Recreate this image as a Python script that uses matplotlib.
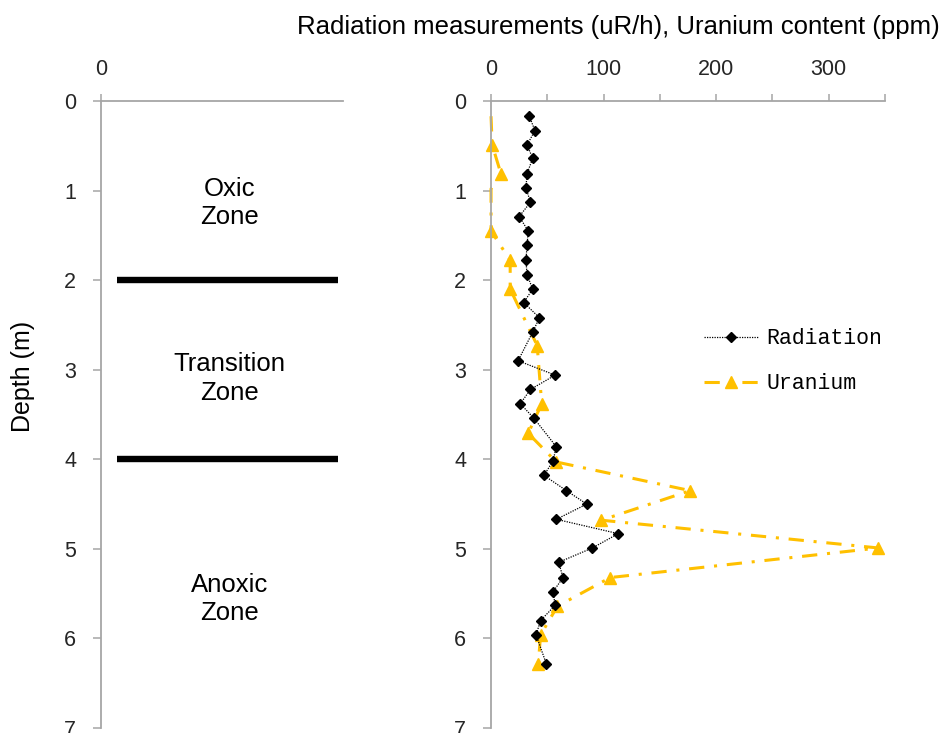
import numpy as np
import matplotlib.pyplot as plt

# Radiation log (uR/h) against depth (m)
rad_depth = [0.17, 0.33, 0.49, 0.64, 0.81, 0.97, 1.13, 1.29, 1.45, 1.61, 1.78, 1.94,
             2.10, 2.25, 2.42, 2.58, 2.90, 3.06, 3.22, 3.38, 3.54, 3.86, 4.02, 4.18,
             4.35, 4.50, 4.67, 4.83, 4.99, 5.15, 5.32, 5.48, 5.63, 5.80, 5.96, 6.28]
rad_value = [34, 39, 32, 37, 32, 31, 35, 25, 33, 32, 31, 32,
             37, 29, 43, 37, 24, 57, 35, 26, 38, 58, 55, 47,
             67, 85, 58, 113, 90, 60, 64, 55, 57, 44, 40, 49]

# Uranium content (ppm) against depth (m)
u_depth = [0.17, 0.49, 0.82, 0.98, 1.45, 1.78, 2.10, 2.73, 3.38, 3.71, 4.03,
           4.35, 4.68, 4.99, 5.32, 5.64, 5.96, 6.28]
u_value = [0, 1, 9, 0, 0, 17, 17, 41, 45, 33, 58,
           177, 98, 344, 106, 59, 44, 42]
u_marked = [1, 2, 4, 5, 6, 7, 8, 9, 10, 11, 12, 13, 14, 15, 16, 17]

zones = ['Oxic\nZone', 'Transition\nZone', 'Anoxic\nZone']
zone_depth = [1.14, 3.10, 5.56]
boundaries = [2, 4]

depth_ticks = list(range(0, 8))
x_ticks = list(range(0, 351, 50))
x_labels = [str(v) if v % 100 == 0 else '' for v in x_ticks]

plt.rcParams['font.family'] = ['Liberation Sans', 'DejaVu Sans']
axis_grey = '#A6A6A6'
text_col = '#262626'
gold = '#FFC000'

fig = plt.figure(figsize=(9.52, 7.33), dpi=100)
ax1 = fig.add_axes([0.1061, 0.0068, 0.2542, 0.8554])
ax2 = fig.add_axes([0.5158, 0.0068, 0.4139, 0.8554])


def style_axis(ax):
    for s in ['right', 'bottom']:
        ax.spines[s].set_visible(False)
    for s in ['left', 'top']:
        ax.spines[s].set_color(axis_grey)
        ax.spines[s].set_linewidth(1.3)
    ax.xaxis.tick_top()
    ax.set_ylim(7, 0)
    ax.set_yticks(depth_ticks)
    ax.tick_params(axis='y', direction='out', length=6, width=1.1, color=axis_grey,
                   pad=12, labelsize=15.5, labelcolor=text_col)
    ax.tick_params(axis='x', direction='out', length=5, width=1.1, color=axis_grey,
                   pad=10, labelsize=15.5, labelcolor=text_col)


# zone panel
style_axis(ax1)
ax1.set_xlim(0, 1)
ax1.set_xticks([0])
ax1.hlines(boundaries, 0.066, 0.979, colors='black', linewidth=4.6)
for z, d in zip(zones, zone_depth):
    ax1.text(0.53, d, z, ha='center', va='center', fontsize=18.5,
             linespacing=1.25, color='black')

# measurement panel
style_axis(ax2)
ax2.set_xlim(0, 350)
ax2.set_xticks(x_ticks)
ax2.set_xticklabels(x_labels)

ax2.plot(rad_value, rad_depth, color='black', linestyle=(0, (1, 1)), linewidth=0.9,
         marker='D', markersize=5.5, label='Radiation', zorder=3, clip_on=False)
ax2.plot(u_value, u_depth, color=gold, linestyle=(0, (5, 3.2, 1, 3.2)), linewidth=2.2,
         marker='^', markersize=8.5, markevery=u_marked, label='Uranium', zorder=2,
         clip_on=False)

ax2.legend(loc='center left', bbox_to_anchor=(0.541, 0.585), frameon=False,
           borderpad=0, borderaxespad=0, handlelength=2.5, handletextpad=0.4,
           labelspacing=1.1, prop={'family': 'Liberation Mono', 'size': 15.5})

fig.text(618 / 952, 1 - 27 / 733, 'Radiation measurements (uR/h), Uranium content (ppm)',
         ha='center', va='center', fontsize=18.5, color='black')
fig.text(23 / 952, 1 - 376 / 733, 'Depth (m)', rotation=90, ha='center', va='center',
         fontsize=18, color='black')

fig.savefig('out.png', dpi=100)
